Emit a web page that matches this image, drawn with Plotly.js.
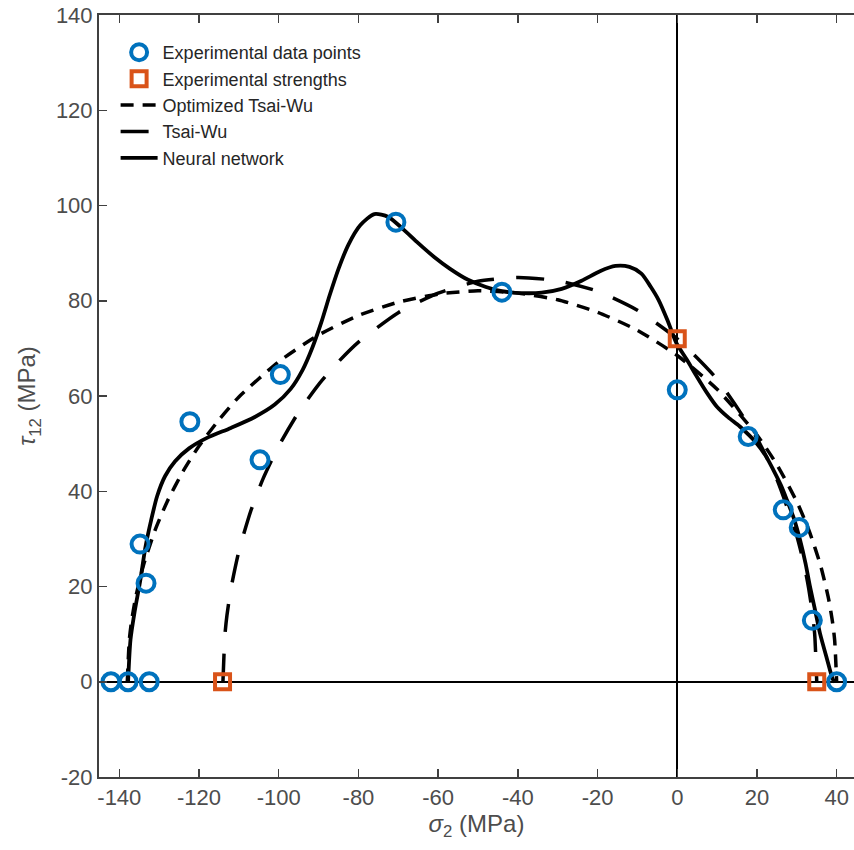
<!DOCTYPE html>
<html>
<head>
<meta charset="utf-8">
<script src="https://cdn.plot.ly/plotly-3.0.1.min.js"></script>
<style>html,body{margin:0;padding:0;background:#fff;}#chart{width:854px;height:850px;}</style>
</head>
<body>
<div id="chart"></div>
<script>
// Experimental data points (sigma_2, tau_12) in MPa
const expSigma = [-142.1, -137.8, -132.5, -134.8, -133.3, -122.3, -104.7, -99.6, -70.6, -44.0, 0, 17.8, 26.6, 30.6, 33.9, 40];
const expTau   = [0, 0, 0, 28.9, 20.7, 54.6, 46.6, 64.5, 96.5, 81.8, 61.3, 51.5, 36.1, 32.4, 12.9, 0];

// Experimental strengths
const strSigma = [-114.1, 0, 35];
const strTau   = [0, 72, 0];

// Optimized Tsai-Wu envelope
const optSigma = [-138, -137.5, -137, -136, -134, -131, -128, -124, -120, -115, -110, -100, -90, -80, -70, -60, -50, -40, -30, -20, -10, 0, 10, 20, 25, 30, 33, 36, 38, 39, 39.5, 40];
const optTau   = [0, 8.7, 12.3, 17.3, 24.3, 31.9, 37.8, 44.2, 49.5, 55.0, 59.8, 67.2, 72.8, 76.9, 79.7, 81.4, 82.1, 81.6, 80.2, 77.6, 73.8, 68.5, 61.4, 51.8, 45.6, 37.8, 31.9, 24.3, 17.3, 12.3, 8.7, 0];

// Tsai-Wu envelope
const twSigma = [-114, -113.5, -113, -112, -110, -107, -104, -100, -95, -90, -85, -80, -70, -60, -50, -40, -30, -20, -10, 0, 10, 20, 25, 30, 32, 33, 34, 34.5, 35];
const twTau   = [0, 9.8, 13.9, 19.5, 27.4, 35.9, 42.5, 49.5, 56.6, 62.4, 67.2, 71.3, 77.5, 81.6, 84.1, 84.9, 84.2, 82.0, 78.0, 72.0, 63.5, 51.1, 42.5, 30.6, 23.9, 19.5, 13.9, 9.8, 0];

// Neural network envelope
const nnSigma = [-137.8, -137.2, -136.2, -134.8, -133.4, -132.0, -130.5, -128.5, -126.0, -122.5, -118.0, -112.0, -106.0, -101.0, -97.0, -94.0, -91.5, -89.3, -87.2, -85.0, -82.5, -79.5, -76.0, -72.5, -69.0, -65.0, -61.0, -57.0, -52.5, -48.0, -44.0, -39.0, -34.0, -29.0, -24.0, -19.4, -15.5, -12.0, -9.0, -6.7, -4.7, -2.4, -0.2, 2.5, 4.9, 7.5, 9.9, 12.8, 15.7, 19.9, 22.3, 24.1, 26.0, 27.5, 29.3, 30.8, 32.2, 33.3, 34.6, 35.8, 37.5, 39.1, 39.6];
const nnTau   = [0, 8.8, 14.5, 21.0, 28.5, 34.0, 39.0, 43.2, 46.3, 49.0, 51.2, 53.3, 55.6, 58.2, 61.5, 65.5, 70.3, 75.5, 81.2, 86.7, 91.8, 95.9, 98.2, 97.6, 95.2, 92.1, 89.2, 86.7, 84.4, 82.9, 82.0, 81.6, 81.7, 82.5, 84.2, 86.2, 87.3, 87.1, 85.7, 83.0, 80.2, 75.8, 71.1, 67.5, 64.1, 60.6, 57.8, 55.5, 53.6, 50.1, 47.3, 44.5, 41.3, 38.2, 34.2, 29.8, 24.8, 20.0, 15.0, 10.2, 5.0, 0.4, 0];

// Tick labels
const xTickVals = [-140, -120, -100, -80, -60, -40, -20, 0, 20, 40];
const xTickText = ['-140', '-120', '-100', '-80', '-60', '-40', '-20', '0', '20', '40'];
const yTickVals = [-20, 0, 20, 40, 60, 80, 100, 120, 140];
const yTickText = ['-20', '0', '20', '40', '60', '80', '100', '120', '140'];

const FONT = 'Liberation Sans, Arial, Helvetica, sans-serif';

const traces = [
  {x: optSigma, y: optTau, mode: 'lines', name: 'Optimized Tsai-Wu', legendrank: 3,
   line: {color: '#000', width: 3.5, dash: '13px,9px', shape: 'spline', smoothing: 0.6}},
  {x: twSigma, y: twTau, mode: 'lines', name: 'Tsai-Wu', legendrank: 4,
   line: {color: '#000', width: 3.5, dash: '28px,22px', shape: 'spline', smoothing: 0.6}},
  {x: nnSigma, y: nnTau, mode: 'lines', name: 'Neural network', legendrank: 5,
   line: {color: '#000', width: 3.8, shape: 'spline', smoothing: 0.7}},
  {x: expSigma, y: expTau, mode: 'markers', name: 'Experimental data points', legendrank: 1, cliponaxis: false,
   marker: {symbol: 'circle-open', size: 17, color: '#0072BD', line: {width: 4, color: '#0072BD'}}},
  {x: strSigma, y: strTau, mode: 'markers', name: 'Experimental strengths', legendrank: 2, cliponaxis: false,
   marker: {symbol: 'square-open', size: 15, color: '#D95319', line: {width: 4, color: '#D95319'}}}
];

const axisCommon = {
  showgrid: false, showline: true, linecolor: '#404040', linewidth: 2,
  ticks: 'inside', ticklen: 8, tickwidth: 1.5, tickcolor: '#404040',
  zeroline: true, zerolinecolor: '#000', zerolinewidth: 2,
  tickfont: {family: FONT, size: 22, color: '#4d4d4d'}
};

const layout = {
  width: 854, height: 850,
  margin: {l: 99, r: 0, t: 15, b: 73},
  paper_bgcolor: '#fff', plot_bgcolor: '#fff',
  showlegend: true,
  legend: {x: 0.022, y: 0.975, xanchor: 'left', yanchor: 'top', bgcolor: 'rgba(0,0,0,0)',
           font: {family: FONT, size: 18, color: '#262626'}, itemwidth: 37, tracegroupgap: 0},
  xaxis: Object.assign({}, axisCommon, {
    range: [-145.1, 44.35], tickvals: xTickVals, ticktext: xTickText, mirror: 'ticks',
    title: {text: '<i>σ</i><sub>2</sub> (MPa)', font: {family: FONT, size: 24, color: '#4d4d4d'}, standoff: 4}
  }),
  yaxis: Object.assign({}, axisCommon, {
    range: [-20, 140], tickvals: yTickVals, ticktext: yTickText, mirror: false,
    title: {text: '<i>τ</i><sub>12</sub> (MPa)', font: {family: FONT, size: 24, color: '#4d4d4d'}, standoff: 13}
  })
};

Plotly.newPlot('chart', traces, layout, {displayModeBar: false, staticPlot: true});
</script>
</body>
</html>
